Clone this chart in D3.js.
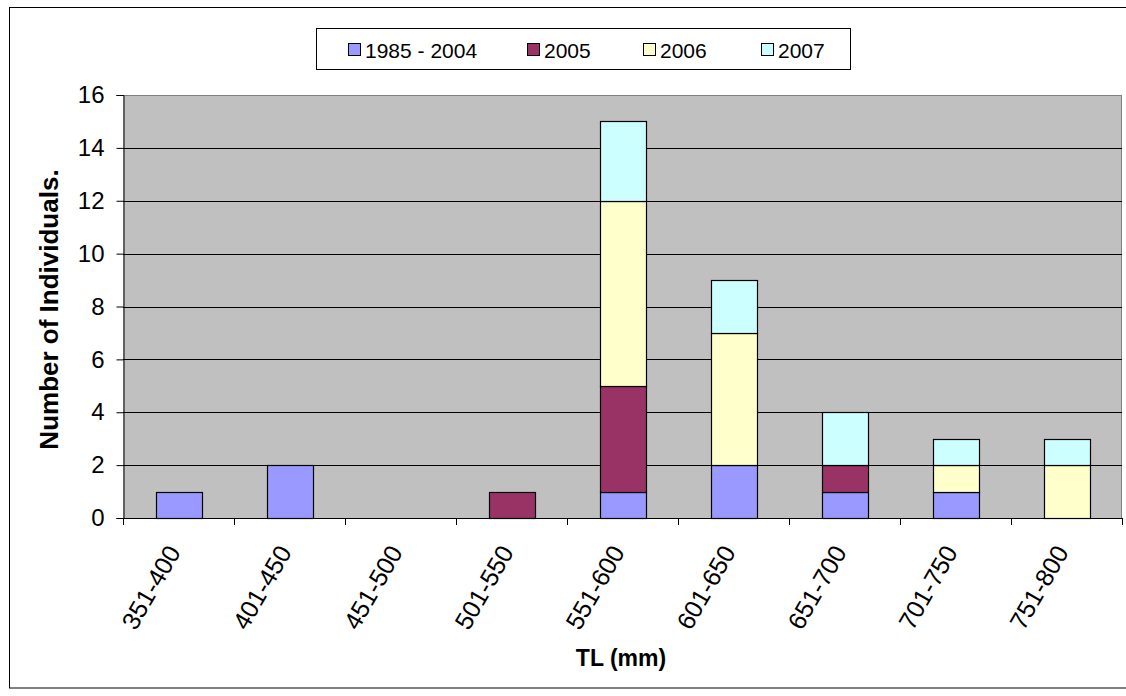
<!DOCTYPE html>
<html>
<head>
<meta charset="utf-8">
<script src="https://cdn.jsdelivr.net/npm/d3@7"></script>
<style>
  html, body { margin: 0; padding: 0; background: #fff; }
  svg { display: block; }
  text { font-family: "Liberation Sans", Arial, sans-serif; fill: #000; }
</style>
</head>
<body>
<svg id="chart" width="1126" height="696"></svg>
<script>
// Total length classes (mm)
const categories = ["351-400", "401-450", "451-500", "501-550", "551-600", "601-650", "651-700", "701-750", "751-800"];

// Number of individuals per length class, by sampling period
const seriesNames = ["1985 - 2004", "2005", "2006", "2007"];
const s1985_2004 = [1, 2, 0, 0, 1, 2, 1, 1, 0];
const s2005      = [0, 0, 0, 1, 4, 0, 1, 0, 0];
const s2006      = [0, 0, 0, 0, 7, 5, 0, 1, 2];
const s2007      = [0, 0, 0, 0, 3, 2, 2, 1, 1];

const yTicks = [0, 2, 4, 6, 8, 10, 12, 14, 16];
const colors = ["#9999FF", "#993366", "#FFFFCC", "#CCFFFF"];

const W = 1126, H = 696;
const plot = { left: 123, top: 95, right: 1122, bottom: 518 };

const rows = categories.map((c, i) => ({
  cat: c,
  "1985 - 2004": s1985_2004[i],
  "2005": s2005[i],
  "2006": s2006[i],
  "2007": s2007[i]
}));
const stacked = d3.stack().keys(seriesNames)(rows);

const svg = d3.select("#chart");

// chart frame
svg.append("rect")
  .attr("x", 9.5).attr("y", 7.5)
  .attr("width", W - 9.5 + 2).attr("height", 688 - 7.5)
  .attr("fill", "#fff").attr("stroke", "#000").attr("stroke-width", 1);

const x = d3.scaleBand().domain(categories)
  .range([plot.left, plot.right]).paddingInner(0.59).paddingOuter(0.295);
const xEdge = d3.scaleLinear().domain([0, categories.length]).range([plot.left, plot.right]);
const y = d3.scaleLinear().domain([0, 16]).range([plot.bottom, plot.top]);

// plot area
svg.append("rect")
  .attr("x", plot.left).attr("y", plot.top)
  .attr("width", plot.right - plot.left).attr("height", plot.bottom - plot.top)
  .attr("fill", "#C0C0C0");
svg.append("line")
  .attr("x1", plot.left).attr("x2", plot.right)
  .attr("y1", plot.top + 0.5).attr("y2", plot.top + 0.5)
  .attr("stroke", "#808080");
svg.append("line")
  .attr("x1", plot.right - 0.5).attr("x2", plot.right - 0.5)
  .attr("y1", plot.top).attr("y2", plot.bottom)
  .attr("stroke", "#808080");

// gridlines
svg.append("g").selectAll("line")
  .data(yTicks.filter(t => t > 0 && t < 16))
  .join("line")
  .attr("x1", plot.left).attr("x2", plot.right)
  .attr("y1", d => Math.round(y(d)) + 0.5).attr("y2", d => Math.round(y(d)) + 0.5)
  .attr("stroke", "#000").attr("stroke-width", 1);

// stacked bars
svg.append("g").selectAll("g")
  .data(stacked)
  .join("g")
  .attr("fill", (d, i) => colors[i])
  .selectAll("rect")
  .data(d => d.filter(p => p[1] - p[0] > 0))
  .join("rect")
  .attr("x", d => Math.round(x(d.data.cat)) + 0.5)
  .attr("width", Math.round(x.bandwidth()))
  .attr("y", d => Math.round(y(d[1])) + 0.5)
  .attr("height", d => Math.round(y(d[0])) - Math.round(y(d[1])))
  .attr("stroke", "#000").attr("stroke-width", 1.2);

// y axis
const yAxis = svg.append("g").attr("transform", `translate(${plot.left + 0.5},0)`)
  .call(d3.axisLeft(y).tickValues(yTicks).tickSize(7).tickPadding(12).tickFormat(d3.format("d")));
yAxis.select(".domain").attr("stroke", "#000");
yAxis.selectAll(".tick line").attr("stroke", "#000");
yAxis.selectAll(".tick text").attr("font-size", 24).attr("font-family", "Liberation Sans, Arial, sans-serif").attr("fill", "#000");

// x axis line and boundary ticks
svg.append("line")
  .attr("x1", plot.left).attr("x2", plot.right)
  .attr("y1", plot.bottom + 0.5).attr("y2", plot.bottom + 0.5)
  .attr("stroke", "#000");
svg.append("g").selectAll("line")
  .data(d3.range(categories.length + 1))
  .join("line")
  .attr("x1", d => Math.round(xEdge(d)) + 0.5).attr("x2", d => Math.round(xEdge(d)) + 0.5)
  .attr("y1", plot.bottom).attr("y2", plot.bottom + 7)
  .attr("stroke", "#000");

// rotated category labels
svg.append("g").selectAll("text")
  .data(categories)
  .join("text")
  .attr("transform", d => `translate(${x(d) + x.bandwidth() / 2 + 3},${plot.bottom + 34}) rotate(-60)`)
  .attr("text-anchor", "end")
  .attr("font-size", 25)
  .text(d => d);

// axis titles
svg.append("text")
  .attr("transform", `translate(58,${(plot.top + plot.bottom) / 2 + 3}) rotate(-90)`)
  .attr("text-anchor", "middle")
  .attr("font-size", 26).attr("font-weight", "bold")
  .text("Number of Individuals.");
svg.append("text")
  .attr("x", 621).attr("y", 666)
  .attr("text-anchor", "middle")
  .attr("font-size", 23).attr("font-weight", "bold")
  .text("TL (mm)");

// legend
const legend = svg.append("g");
legend.append("rect")
  .attr("x", 316.5).attr("y", 28.5).attr("width", 534).attr("height", 41)
  .attr("fill", "#fff").attr("stroke", "#000");
const legendX = [348, 527, 643, 761];
const items = legend.selectAll("g.item")
  .data(seriesNames)
  .join("g").attr("class", "item")
  .attr("transform", (d, i) => `translate(${legendX[i]},0)`);
items.append("rect")
  .attr("x", 0.5).attr("y", 43.5).attr("width", 12).attr("height", 12)
  .attr("fill", (d, i) => colors[i]).attr("stroke", "#000");
items.append("text")
  .attr("x", 17).attr("y", 58)
  .attr("font-size", 21)
  .text(d => d);
</script>
</body>
</html>
